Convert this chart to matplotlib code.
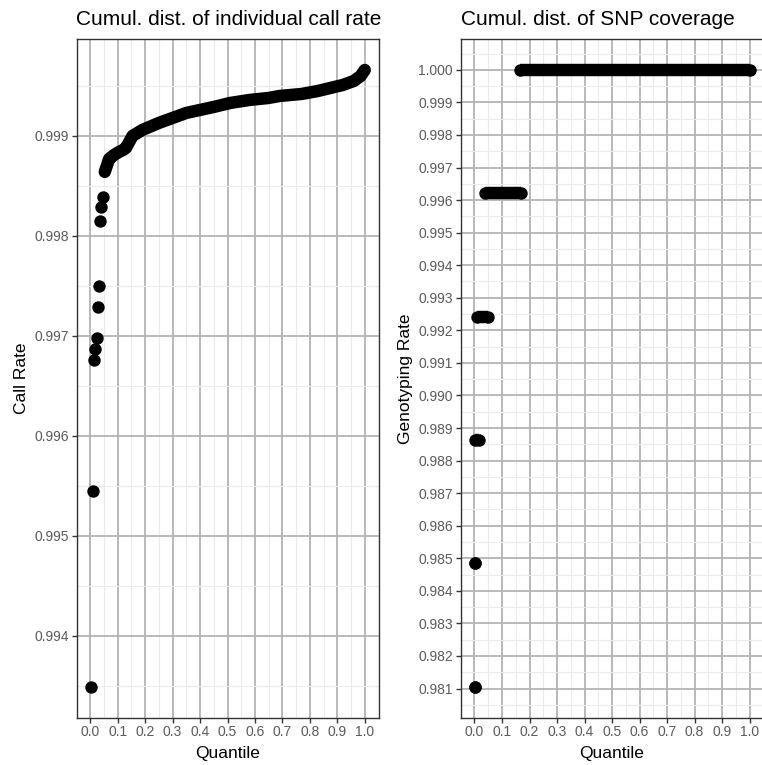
import matplotlib
matplotlib.use("Agg")
import matplotlib.pyplot as plt
from matplotlib.ticker import FixedLocator

plt.rcParams['font.family'] = ['Liberation Sans', 'DejaVu Sans']

# individual call rate, sorted (quantile, call rate)
call_q_low = [0.004, 0.009, 0.013, 0.018, 0.023, 0.027, 0.031, 0.034, 0.041, 0.047]
call_v_low = [0.99349, 0.99545, 0.99676, 0.99687, 0.99698, 0.99729, 0.99750, 0.99815, 0.99829, 0.99839]
call_q = [0.053, 0.069, 0.087, 0.105, 0.120, 0.130, 0.140, 0.154, 0.190, 0.250, 0.310, 0.350,
          0.400, 0.450, 0.510, 0.580, 0.650, 0.690, 0.770, 0.830, 0.875, 0.920, 0.960, 0.985, 1.000]
call_v = [0.99864, 0.99877, 0.99881, 0.99884, 0.99886, 0.99888, 0.99893, 0.99900, 0.99906, 0.99913,
          0.99919, 0.99923, 0.99926, 0.99929, 0.99933, 0.99936, 0.99938, 0.99940, 0.99942, 0.99945,
          0.99948, 0.99951, 0.99955, 0.99960, 0.99966]

# SNP coverage levels and the quantile span each level covers
cov_level = [0.98106, 0.98485, 0.98864, 0.99242, 0.99621, 1.00000]
cov_q_start = [0.002, 0.003, 0.002, 0.008, 0.038, 0.166]
cov_q_end = [0.002, 0.003, 0.015, 0.048, 0.169, 1.000]

quantile_ticks = [0.0, 0.1, 0.2, 0.3, 0.4, 0.5, 0.6, 0.7, 0.8, 0.9, 1.0]
call_ticks = [0.994, 0.995, 0.996, 0.997, 0.998, 0.999]
cov_ticks = [0.981, 0.982, 0.983, 0.984, 0.985, 0.986, 0.987, 0.988, 0.989, 0.990,
             0.991, 0.992, 0.993, 0.994, 0.995, 0.996, 0.997, 0.998, 0.999, 1.000]

DOT = 80          # marker area, pt^2
DOT_W = DOT ** 0.5


def half_steps(ticks):
    step = ticks[1] - ticks[0]
    return [t - step / 2 for t in ticks] + [ticks[-1] + step / 2]


def style_axes(ax, yticks, title, ylabel, ylim):
    ax.set_xlim(-0.05, 1.05)
    ax.set_ylim(*ylim)
    ax.xaxis.set_major_locator(FixedLocator(quantile_ticks))
    ax.xaxis.set_minor_locator(FixedLocator(half_steps(quantile_ticks)))
    ax.yaxis.set_major_locator(FixedLocator(yticks))
    ax.yaxis.set_minor_locator(FixedLocator(half_steps(yticks)))
    ax.set_xticklabels(['%.1f' % t for t in quantile_ticks])
    ax.set_yticklabels(['%.3f' % t for t in yticks])
    ax.grid(which='major', color='#b3b3b3', linewidth=1.3)
    ax.grid(which='minor', color='#ebebeb', linewidth=0.8)
    ax.set_axisbelow(True)
    for sp in ax.spines.values():
        sp.set_color('#333333')
        sp.set_linewidth(1.0)
    ax.tick_params(which='major', length=3.5, width=1.0, color='#333333',
                   labelsize=10, labelcolor='#5a5a5a', pad=2)
    ax.tick_params(which='minor', length=0)
    ax.set_title(title, loc='left', fontsize=15, pad=10)
    ax.set_xlabel('Quantile', fontsize=12.5, labelpad=5)
    ax.set_ylabel(ylabel, fontsize=12.5, labelpad=3.5)


fig = plt.figure(figsize=(7.62, 7.65), dpi=100)
ax1 = fig.add_axes([76.5 / 762, 47.5 / 765, 302 / 762, 678.5 / 765])
ax2 = fig.add_axes([460.75 / 762, 47.5 / 765, 302.5 / 762, 678.5 / 765])

# LEFT: call rate per individual
ax1.scatter(call_q_low, call_v_low, s=DOT, color='black', linewidths=0, zorder=3)
ax1.plot(call_q, call_v, color='black', linewidth=DOT_W, solid_joinstyle='round',
         solid_capstyle='round', zorder=3)
style_axes(ax1, call_ticks, 'Cumul. dist. of individual call rate', 'Call Rate',
           (0.99318, 0.99997))

# RIGHT: genotyping rate per SNP
for lvl, q0, q1 in zip(cov_level, cov_q_start, cov_q_end):
    ax2.scatter([q0, q1], [lvl, lvl], s=DOT, color='black', linewidths=0, zorder=3)
    ax2.plot([q0, q1], [lvl, lvl], color='black', linewidth=DOT_W,
             solid_capstyle='butt', zorder=3)
style_axes(ax2, cov_ticks, 'Cumul. dist. of SNP coverage', 'Genotyping Rate',
           (0.98011, 1.000947))

fig.savefig('out.png', dpi=100)
